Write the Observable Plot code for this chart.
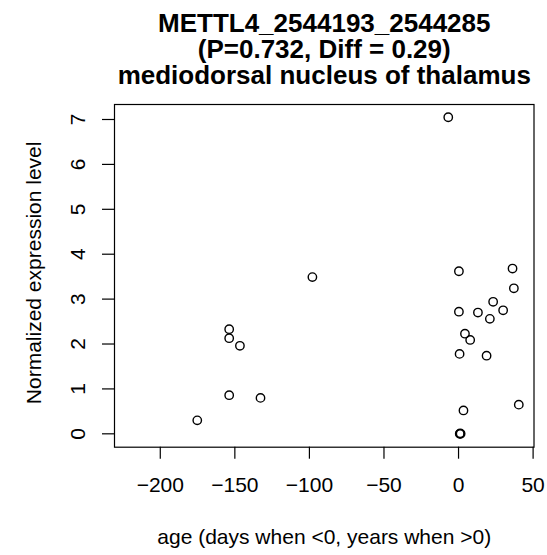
<!DOCTYPE html>
<html>
<head>
<meta charset="utf-8">
<script src="https://cdn.jsdelivr.net/npm/d3@7"></script>
<script src="https://cdn.jsdelivr.net/npm/@observablehq/plot@0.6"></script>
<style>
  html, body { margin: 0; padding: 0; background: #fff; }
</style>
</head>
<body>
<div id="chart"></div>
<script>
const titleLines = ["METTL4_2544193_2544285", "(P=0.732, Diff = 0.29)", "mediodorsal nucleus of thalamus"];
const xLabel = "age (days when <0, years when >0)";
const yLabel = "Normalized expression level";
const xTicks = [-200, -150, -100, -50, 0, 50];
const yTicks = [0, 1, 2, 3, 4, 5, 6, 7];

const ages = [-175.2, -153.8, -153.8, -146.6, -153.8, -132.8, -98.0,
  -6.9, 0.25, 36.2, 37.1, 23.2, 29.9, 0.25, 13.0, 21.0, 4.3, 7.8, 0.7, 18.8, 40.4, 3.3, 0.8, 1.1, 1.4];
const expr = [0.30, 2.33, 2.13, 1.96, 0.86, 0.80, 3.49,
  7.05, 3.62, 3.68, 3.24, 2.94, 2.75, 2.72, 2.70, 2.56, 2.23, 2.09, 1.78, 1.74, 0.65, 0.52, 0.0, 0.01, 0.0];

const data = ages.map((a, i) => ({age: a, value: expr[i]}));
const font = "Liberation Sans, Arial, Helvetica, sans-serif";

const chart = Plot.plot({
  width: 547,
  height: 555,
  marginLeft: 114,
  marginRight: 13.5,
  marginTop: 104,
  marginBottom: 108.3,
  style: {fontFamily: font, background: "#fff", color: "#000"},
  x: {domain: [-230.7, 50.6]},
  y: {domain: [-0.298, 7.334]},
  marks: [
    Plot.frame({stroke: "#000", strokeWidth: 1.2}),
    Plot.axisX({ticks: xTicks, tickSize: 12, tickPadding: 18, fontSize: 21, label: null, stroke: "#000", strokeWidth: 1.2, tickFormat: d => d3.format("")(d)}),
    Plot.axisY({ticks: yTicks, tickSize: 12, text: null, label: null, stroke: "#000", strokeWidth: 1.2}),
    Plot.text(yTicks, {y: d => d, text: d => String(d), frameAnchor: "left", rotate: -90, dx: -36.5, fontSize: 21, lineAnchor: "middle", textAnchor: "middle", fill: "#000"}),
    Plot.text([yLabel], {frameAnchor: "left", rotate: -90, dx: -80, dy: -3, fontSize: 21, lineAnchor: "middle", textAnchor: "middle", fill: "#000"}),
    Plot.text([xLabel], {frameAnchor: "bottom", dy: 96.6, fontSize: 21, lineAnchor: "bottom", fill: "#000"}),
    Plot.text([titleLines[0]], {frameAnchor: "top", dy: -72.3, fontSize: 26, fontWeight: "bold", lineAnchor: "bottom", fill: "#000"}),
    Plot.text([titleLines[1]], {frameAnchor: "top", dy: -46.7, fontSize: 26, fontWeight: "bold", lineAnchor: "bottom", fill: "#000"}),
    Plot.text([titleLines[2]], {frameAnchor: "top", dy: -20.7, fontSize: 26, fontWeight: "bold", lineAnchor: "bottom", fill: "#000"}),
    Plot.dot(data, {x: "age", y: "value", r: 4.2, stroke: "#000", strokeWidth: 1.4, fill: "none"})
  ]
});
document.getElementById("chart").appendChild(chart);
</script>
</body>
</html>
